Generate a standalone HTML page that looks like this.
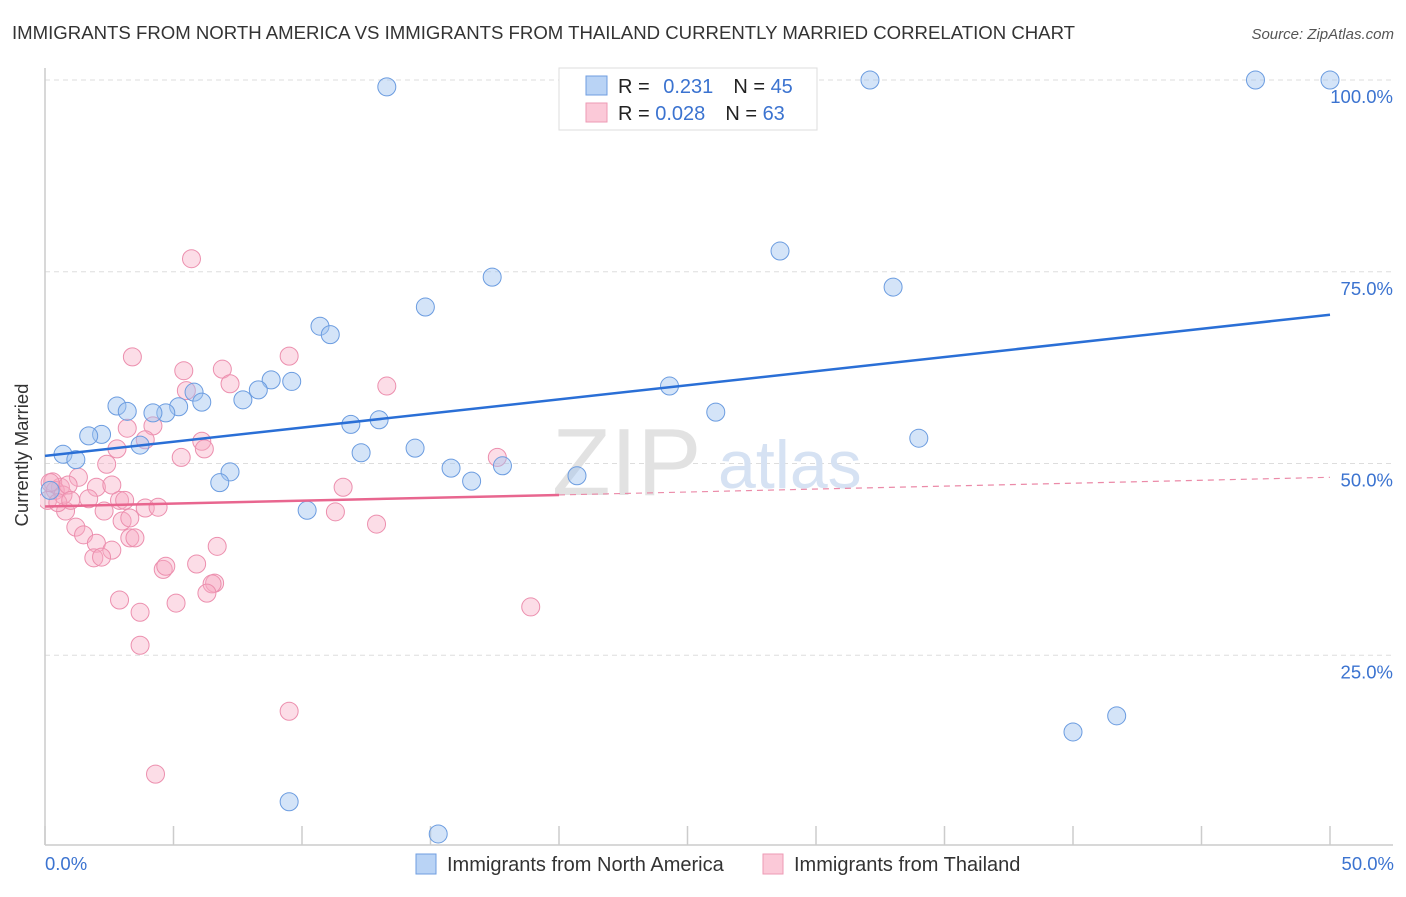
<!DOCTYPE html>
<html><head><meta charset="utf-8"><style>
body{margin:0;background:#fff;font-family:"Liberation Sans",sans-serif;}
svg text{font-family:"Liberation Sans",sans-serif;}
</style></head><body>
<svg id="chart" width="1406" height="892" xmlns="http://www.w3.org/2000/svg">
<defs><clipPath id="plotclip"><rect x="40" y="60" width="1360" height="785"/></clipPath></defs>
<text x="12" y="39" font-size="18.6" fill="#333">IMMIGRANTS FROM NORTH AMERICA VS IMMIGRANTS FROM THAILAND CURRENTLY MARRIED CORRELATION CHART</text>
<text x="1394" y="39" font-size="15" fill="#555" font-style="italic" text-anchor="end">Source: ZipAtlas.com</text>
<g id="grid"></g>
<line x1="45" y1="68" x2="45" y2="845" stroke="#ccc" stroke-width="1.5"/>
<line x1="45" y1="845" x2="1393" y2="845" stroke="#ccc" stroke-width="1.5"/>
<g id="xticks"></g>
<text x="552" y="495" font-size="96" fill="#e2e2e2" font-family="Liberation Serif">ZIP</text>
<text x="718" y="488" font-size="68" fill="#d6e2f3">atlas</text>
<g id="points" clip-path="url(#plotclip)"></g>
<g id="lines"></g>
<text x="28" y="455" font-size="18.5" fill="#333" text-anchor="middle" transform="rotate(-90 28 455)">Currently Married</text>
<text x="45" y="870" font-size="18.5" fill="#3b73d0">0.0%</text>
<text x="1394" y="870" font-size="18.5" fill="#3b73d0" text-anchor="end">50.0%</text>
<g>
<rect x="559" y="68" width="258" height="62" fill="#fff" stroke="#ddd"/>
<rect x="586" y="76" width="21" height="19" fill="#b9d3f5" stroke="#6f9ee0"/>
<rect x="586" y="103" width="21" height="19" fill="#fbc9d8" stroke="#ee9ab4"/>
<text x="618" y="93" font-size="20" fill="#222">R = <tspan fill="#3b73d0" dx="8">0.231</tspan><tspan dx="20">N = </tspan><tspan fill="#3b73d0">45</tspan></text>
<text x="618" y="120" font-size="20" fill="#222">R = <tspan fill="#3b73d0">0.028</tspan><tspan dx="20">N = </tspan><tspan fill="#3b73d0">63</tspan></text>
</g>
<g>
<rect x="416" y="854" width="20" height="20" fill="#b9d3f5" stroke="#6f9ee0"/>
<text x="447" y="871" font-size="20" fill="#333">Immigrants from North America</text>
<rect x="763" y="854" width="20" height="20" fill="#fbc9d8" stroke="#ee9ab4"/>
<text x="794" y="871" font-size="20" fill="#333">Immigrants from Thailand</text>
</g>
</svg>
<script>
const yTicks=[100,75,50,25];
const yTickLabels=["100.0%","75.0%","50.0%","25.0%"];
const xTicks=[0,5,10,15,20,25,30,35,40,45,50];
const blueX=[13.3,32.1,47.1,50,28.6,17.4,33.0,14.8,10.7,11.1,24.3,9.6,8.8,8.3,7.7,5.8,6.1,5.2,4.7,4.2,2.8,3.2,11.9,13.0,26.1,34.0,2.2,1.7,3.7,0.7,1.2,12.3,14.4,15.8,17.8,16.6,20.7,7.2,6.8,10.2,0.2,40.0,41.7,9.5,15.3];
const blueY=[99.1,100,100,100,77.7,74.3,73.0,70.4,67.9,66.8,60.1,60.7,60.9,59.6,58.3,59.3,58.0,57.4,56.6,56.6,57.5,56.8,55.1,55.7,56.7,53.3,53.8,53.6,52.4,51.2,50.5,51.4,52.0,49.4,49.7,47.7,48.4,48.9,47.5,43.9,46.5,15.0,17.1,5.9,1.7];
const pinkX=[3.4,5.7,5.4,6.9,7.2,5.5,9.5,13.3,4.2,3.2,3.9,2.8,6.1,6.2,5.3,2.4,1.3,2.0,2.6,0.6,1.7,2.9,3.1,3.9,4.4,0.8,2.3,1.2,1.5,3.0,3.3,3.3,2.0,2.6,1.9,2.2,3.5,4.6,4.7,6.7,5.9,6.6,6.5,6.3,2.9,3.7,5.1,3.7,11.6,11.3,12.9,17.6,18.9,9.5,4.3,0.3,0.4,0.7,0.1,0.9,0.5,0.2,1.0];
const pinkY=[63.9,76.7,62.1,62.3,60.4,59.5,64.0,60.1,54.9,54.6,53.1,51.9,52.9,51.9,50.8,49.9,48.2,46.9,47.2,46.9,45.4,45.2,45.2,44.2,44.3,43.8,43.8,41.7,40.7,42.5,42.9,40.3,39.6,38.7,37.7,37.8,40.3,36.2,36.6,39.2,36.9,34.4,34.3,33.1,32.2,30.6,31.8,26.3,46.9,43.7,42.1,50.8,31.3,17.7,9.5,47.6,46.5,45.9,45.2,47.2,44.9,47.5,45.2];
const blueLine=[[0,51.0],[50,69.4]];
const pinkSolid=[[0,44.4],[20,45.9]];
const pinkDash=[[20,45.9],[50,48.2]];
const NS="http://www.w3.org/2000/svg";
function sx(v){return 45+v*25.7;}
function sy(v){return 847-v*7.67;}
function mk(tag,attrs,parent){const e=document.createElementNS(NS,tag);for(const k in attrs)e.setAttribute(k,attrs[k]);document.getElementById(parent).appendChild(e);return e;}
yTicks.forEach((t,i)=>{
 const l=mk('line',{x1:45,x2:1393,y1:sy(t),y2:sy(t),stroke:'#ddd','stroke-dasharray':'5,4'},'grid');
 
 
 const tx=mk('text',{x:1393,y:sy(t)+23,'font-size':18.5,fill:'#3b73d0','text-anchor':'end'},'grid');
 tx.textContent=yTickLabels[i];
 
 
});
xTicks.forEach(t=>{
 const l=mk('line',{x1:sx(t),x2:sx(t),y1:826,y2:845,stroke:'#ccc','stroke-width':1.5},'xticks');
 
 
});
pinkX.forEach((x,i)=>{
 const c=mk('circle',{cx:sx(x),cy:sy(pinkY[i]),r:9,fill:'rgba(248,170,195,0.4)',stroke:'#ec8fae','stroke-width':1},'points');
 
 
});
blueX.forEach((x,i)=>{
 const c=mk('circle',{cx:sx(x),cy:sy(blueY[i]),r:9,fill:'rgba(160,196,240,0.45)',stroke:'#6b9ce0','stroke-width':1},'points');
 
 
});
function ln(p,col,dash,w,name){
 const l=mk('line',{x1:sx(p[0][0]),y1:sy(p[0][1]),x2:sx(p[1][0]),y2:sy(p[1][1]),stroke:col,'stroke-width':w},'lines');
 if(dash)l.setAttribute('stroke-dasharray',dash);
 
 
}
ln(blueLine,'#2a6fd6',null,2.5,'trend-line-north-america');
ln(pinkSolid,'#e8668f',null,2.5,'trend-line-thailand');
ln(pinkDash,'#eb8aa8','6,5',1.2,'trend-line-thailand-extrapolated');
</script>
</body></html>
